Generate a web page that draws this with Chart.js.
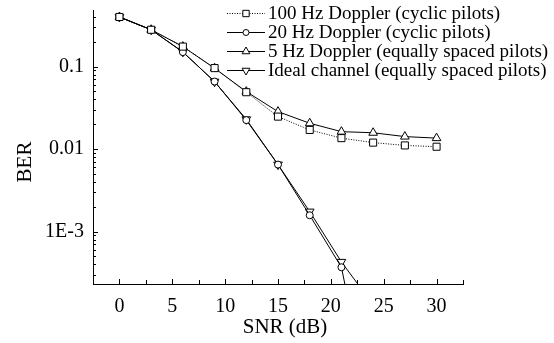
<!DOCTYPE html>
<html>
<head>
<meta charset="utf-8">
<script src="https://cdn.jsdelivr.net/npm/chart.js@4.4.1/dist/chart.umd.min.js"></script>
<style>
  html, body { margin: 0; padding: 0; background: #fff; }
  #wrap { width: 554px; height: 343px; }
</style>
</head>
<body>
<div id="wrap"><canvas id="berChart"></canvas></div>
<script>
// SNR points (dB)
var snr = [0, 3, 6, 9, 12, 15, 18, 21, 24, 27, 30];

// BER curves
var ber100Hz = [0.40, 0.28, 0.175, 0.096, 0.049, 0.0248, 0.0171, 0.0136, 0.0120, 0.0111, 0.0107];
var ber20Hz  = [0.40, 0.28, 0.150, 0.066, 0.0225, 0.0065, 0.00158, 0.00037, 0.000005];
var ber5Hz   = [0.40, 0.28, 0.175, 0.0957, 0.0498, 0.0285, 0.0206, 0.0163, 0.0158, 0.0142, 0.0136];
var berIdeal = [0.40, 0.28, 0.151, 0.0658, 0.023, 0.0065, 0.00175, 0.00043, 0.00013];

var seriesNames = [
    '100 Hz Doppler (cyclic pilots)',
    '20 Hz Doppler (cyclic pilots)',
    '5 Hz Doppler (equally spaced pilots)',
    'Ideal channel (equally spaced pilots)'
];

// tick labels (ascending, chart.js expects that order)
var xTickValues = [0, 5, 10, 15, 20, 25, 30];
var yTickValues = [0.001, 0.01, 0.1];
var yTickText = ['1E-3', '0.01', '0.1'];

var FONT = "'Liberation Serif', 'Times New Roman', serif";

function toPoints(ys) {
    return ys.map(function(v, i) { return { x: snr[i], y: v }; });
}

function series(label, ys, style, radius, rotation, dash) {
    return {
        label: label,
        data: toPoints(ys),
        borderColor: '#000',
        borderWidth: 1,
        borderDash: dash,
        pointStyle: style,
        pointRadius: radius,
        pointRotation: rotation,
        pointBorderColor: '#000',
        pointBackgroundColor: '#fff',
        pointBorderWidth: 1,
        tension: 0,
        fill: false
    };
}

// inward tick marks, custom legend with line samples, axis titles
var decorations = {
    id: 'decorations',
    afterDraw: function(chart) {
        var ctx = chart.ctx;
        var area = chart.chartArea;
        var xs = chart.scales.x, ys = chart.scales.y;
        ctx.save();
        ctx.strokeStyle = '#000';
        ctx.lineWidth = 1;
        ctx.setLineDash([]);

        // y ticks (log decades + minors)
        ctx.beginPath();
        for (var d = -5; d <= 0; d++) {
            for (var m = 1; m <= 9; m++) {
                var v = m * Math.pow(10, d);
                if (v < ys.min || v > ys.max) continue;
                var py = Math.round(ys.getPixelForValue(v)) + 0.5;
                var len = m === 1 ? 5 : 3;
                ctx.moveTo(area.left, py);
                ctx.lineTo(area.left + len, py);
            }
        }
        // x ticks every 2.5
        for (var t = 0; t <= 32.5; t += 2.5) {
            var px = Math.round(xs.getPixelForValue(t)) + 0.5;
            var l = (t % 5 === 0) ? 5 : 4;
            ctx.moveTo(px, area.bottom);
            ctx.lineTo(px, area.bottom - l);
        }
        ctx.stroke();

        // legend
        var rowY = [13, 32, 51, 70];
        chart.data.datasets.forEach(function(ds, i) {
            var y = rowY[i] + 0.5;
            ctx.setLineDash(ds.borderDash || []);
            ctx.beginPath();
            ctx.moveTo(227, y);
            ctx.lineTo(265, y);
            ctx.stroke();
            ctx.setLineDash([]);
            ctx.fillStyle = '#fff';
            Chart.helpers.drawPoint(ctx, {
                pointStyle: ds.pointStyle,
                rotation: ds.pointRotation,
                radius: ds.pointRadius - 0.5,
                borderWidth: 1
            }, 246, y);
            ctx.fillStyle = '#000';
            ctx.font = '19px ' + FONT;
            ctx.textAlign = 'left';
            ctx.textBaseline = 'middle';
            ctx.fillText(ds.label, 268, y + 1);
        });

        // axis titles
        ctx.fillStyle = '#000';
        ctx.font = '21px ' + FONT;
        ctx.textAlign = 'center';
        ctx.textBaseline = 'middle';
        ctx.fillText('SNR (dB)', 285, 327);
        ctx.translate(25, 162);
        ctx.rotate(-Math.PI / 2);
        ctx.fillText('BER', 0, 0);
        ctx.restore();
    }
};

var ctx = document.getElementById('berChart').getContext('2d');
new Chart(ctx, {
    type: 'line',
    data: {
        datasets: [
            series(seriesNames[0], ber100Hz, 'rect', 5, 0, [1, 1.5]),
            series(seriesNames[1], ber20Hz, 'circle', 3.5, 0, []),
            series(seriesNames[2], ber5Hz, 'triangle', 5, 0, []),
            series(seriesNames[3], berIdeal, 'triangle', 5, 180, [])
        ]
    },
    options: {
        responsive: true,
        maintainAspectRatio: false,
        animation: false,
        devicePixelRatio: 1,
        layout: { padding: { top: 10, right: 91, left: 0, bottom: 0 } },
        plugins: {
            legend: { display: false },
            tooltip: { enabled: false }
        },
        scales: {
            x: {
                type: 'linear',
                min: -2.5,
                max: 32.5,
                grid: { display: false, drawTicks: false },
                border: { display: true, color: '#000', width: 1 },
                afterBuildTicks: function(scale) {
                    scale.ticks = xTickValues.map(function(v) { return { value: v }; });
                },
                afterFit: function(scale) {
                    scale.height = 59;
                    scale.paddingLeft = 0;
                    scale.paddingRight = 0;
                },
                ticks: {
                    autoSkip: false,
                    maxRotation: 0,
                    padding: 11,
                    color: '#000',
                    font: { family: FONT, size: 20 }
                }
            },
            y: {
                type: 'logarithmic',
                min: 0.000232,
                max: 0.486,
                grid: { display: false, drawTicks: false },
                border: { display: true, color: '#000', width: 1 },
                afterBuildTicks: function(scale) {
                    scale.ticks = yTickValues.map(function(v) { return { value: v }; });
                },
                afterFit: function(scale) {
                    scale.width = 93;
                    scale.paddingTop = 0;
                    scale.paddingBottom = 0;
                },
                ticks: {
                    autoSkip: false,
                    padding: 9,
                    color: '#000',
                    font: { family: FONT, size: 20 },
                    callback: function(value) {
                        var i = yTickValues.indexOf(value);
                        return i >= 0 ? yTickText[i] : '';
                    }
                }
            }
        }
    },
    plugins: [decorations]
});
</script>
</body>
</html>
